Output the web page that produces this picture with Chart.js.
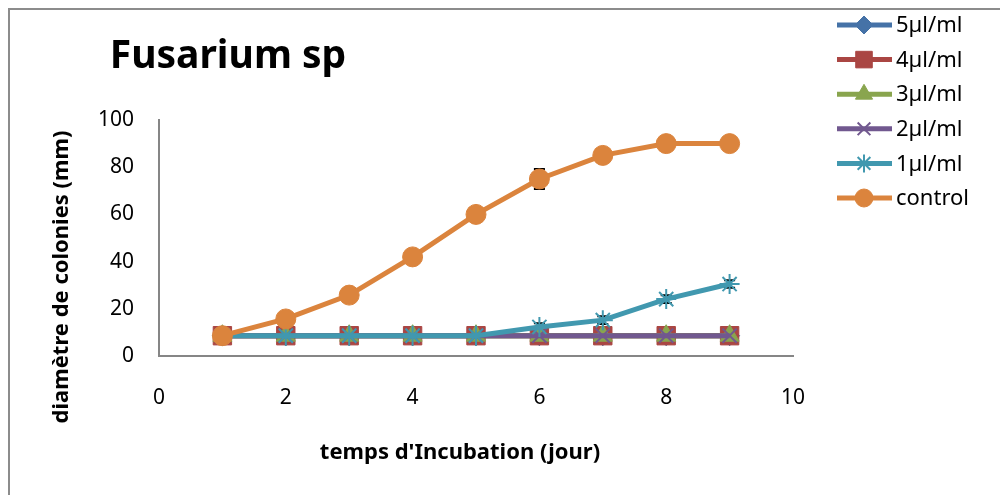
<!DOCTYPE html>
<html>
<head>
<meta charset="utf-8">
<script src="https://cdn.jsdelivr.net/npm/chart.js@4.4.0/dist/chart.umd.min.js"></script>
<style>
    html, body { margin: 0; padding: 0; background: #fff; }
    #wrap { position: relative; width: 1000px; height: 495px; }
    #frame {
        position: absolute; left: 8px; top: 8px; right: 0; bottom: 0;
        border-left: 2px solid #8c8c8c; border-top: 2px solid #8c8c8c;
        pointer-events: none;
    }
</style>
</head>
<body>
<div id="wrap">
    <canvas id="fusariumChart" width="1000" height="495"></canvas>
    <div id="frame"></div>
</div>
<script>
// Data
const days = [1, 2, 3, 4, 5, 6, 7, 8, 9];
const xTicks = [0, 2, 4, 6, 8, 10];
const yTicks = [0, 20, 40, 60, 80, 100];

const labels = ['5µl/ml', '4µl/ml', '3µl/ml', '2µl/ml', '1µl/ml', 'control'];
const dose5 = [8.6, 8.6, 8.6, 8.6, 8.6, 8.6, 8.6, 8.6, 8.6];
const dose4 = [8.6, 8.6, 8.6, 8.6, 8.6, 8.6, 8.6, 8.6, 8.6];
const dose3 = [8.6, 8.6, 8.6, 8.6, 8.6, 8.6, 8.6, 8.6, 8.6];
const dose2 = [8.6, 8.6, 8.6, 8.6, 8.6, 8.6, 8.6, 8.6, 8.6];
const dose1 = [8.6, 8.6, 8.6, 8.6, 8.6, 12.3, 15.2, 24.1, 30.5];
const control = [8.6, 15.7, 25.8, 42, 60, 75, 85, 90, 90];

// error bars (only the visible ones)
const errDose1 = [0, 0, 0, 0, 0, 1.6, 1.6, 1.6, 1.6];
const errControl = [0, 0, 0, 0, 0, 4.2, 0, 0, 0];

const colors = ['#4572A7', '#AA4643', '#89A54E', '#71588F', '#4198AF', '#DB843D'];
const styles = ['rectRot', 'rect', 'triangle', 'crossRot', 'star', 'circle'];
const radii = [10, 13, 11, 10, 10, 10];
const series = [dose5, dose4, dose3, dose2, dose1, control];
const errors = [null, null, null, null, errDose1, errControl];

const FONT = '"Noto Sans", "Open Sans", sans-serif';

const datasets = series.map((vals, i) => ({
    label: labels[i],
    data: vals.map((v, j) => ({ x: days[j], y: v })),
    borderColor: colors[i],
    backgroundColor: colors[i],
    borderWidth: 5,
    pointStyle: styles[i],
    pointRadius: radii[i],
    pointBackgroundColor: colors[i],
    pointBorderColor: colors[i],
    pointBorderWidth: (styles[i] === 'crossRot' || styles[i] === 'star') ? 2 : 1,
    tension: 0,
    order: series.length - 1 - i,
    errors: errors[i]
}));

// Error bars, drawn behind the markers
const errorBars = {
    id: 'errorBars',
    beforeDatasetsDraw(chart) {
        const ctx = chart.ctx;
        const yScale = chart.scales.y;
        ctx.save();
        ctx.strokeStyle = '#000';
        ctx.lineWidth = 2;
        chart.data.datasets.forEach((ds, i) => {
            if (!ds.errors) return;
            const meta = chart.getDatasetMeta(i);
            meta.data.forEach((pt, j) => {
                const e = ds.errors[j];
                if (!e) return;
                const v = ds.data[j].y;
                const top = yScale.getPixelForValue(v + e);
                const bot = yScale.getPixelForValue(v - e);
                ctx.beginPath();
                ctx.moveTo(pt.x, top); ctx.lineTo(pt.x, bot);
                ctx.moveTo(pt.x - 5.5, top); ctx.lineTo(pt.x + 5.5, top);
                ctx.moveTo(pt.x - 5.5, bot); ctx.lineTo(pt.x + 5.5, bot);
                ctx.stroke();
            });
        });
        ctx.restore();
    }
};

// Title, axis titles and legend
const extras = {
    id: 'extras',
    afterDraw(chart) {
        const ctx = chart.ctx;
        ctx.save();
        ctx.fillStyle = '#000';

        ctx.font = 'bold 39px ' + FONT;
        ctx.textAlign = 'center';
        ctx.textBaseline = 'middle';
        ctx.fillText('Fusarium sp', 228, 57);

        ctx.font = 'bold 22px ' + FONT;
        ctx.fillText("temps d'Incubation (jour)", 460, 453);

        ctx.save();
        ctx.translate(62, 277);
        ctx.rotate(-Math.PI / 2);
        ctx.fillText('diamètre de colonies (mm)', 0, 0);
        ctx.restore();

        // legend
        ctx.font = '22px ' + FONT;
        ctx.textAlign = 'left';
        chart.data.datasets.forEach((ds, i) => {
            const y = 25 + i * 34.6;
            ctx.strokeStyle = ds.borderColor;
            ctx.lineWidth = 5;
            ctx.beginPath();
            ctx.moveTo(837, y); ctx.lineTo(892, y);
            ctx.stroke();
            ctx.fillStyle = ds.pointBackgroundColor;
            ctx.strokeStyle = ds.pointBorderColor;
            ctx.lineWidth = ds.pointBorderWidth;
            Chart.helpers.drawPoint(ctx, {
                pointStyle: ds.pointStyle,
                radius: ds.pointRadius * 0.9,
                rotation: 0,
                borderWidth: ds.pointBorderWidth
            }, 864, y);
            ctx.fillStyle = '#000';
            ctx.fillText(ds.label, 896, y + 1);
        });
        ctx.restore();
    }
};

const chart = new Chart(document.getElementById('fusariumChart').getContext('2d'), {
    type: 'line',
    data: { datasets: datasets },
    options: {
        responsive: false,
        animation: false,
        layout: { padding: { left: 0, top: 120, right: 207, bottom: 0 } },
        plugins: {
            legend: { display: false },
            title: { display: false },
            tooltip: { enabled: false }
        },
        scales: {
            x: {
                type: 'linear',
                min: 0,
                max: 10,
                afterBuildTicks: (s) => { s.ticks = xTicks.map(v => ({ value: v })); },
                afterFit: (s) => { s.height = 139; },
                grid: { display: true, drawOnChartArea: false, drawTicks: false },
                border: { display: true, color: '#868686', width: 2 },
                ticks: { padding: 29, color: '#000', font: { family: FONT, size: 21 }, maxRotation: 0 }
            },
            y: {
                min: 0,
                max: 100,
                afterBuildTicks: (s) => { s.ticks = yTicks.map(v => ({ value: v })); },
                afterFit: (s) => { s.width = 159; },
                grid: { display: true, drawOnChartArea: false, drawTicks: false },
                border: { display: true, color: '#868686', width: 2 },
                ticks: { padding: 25, color: '#000', font: { family: FONT, size: 21 } }
            }
        }
    },
    plugins: [errorBars, extras]
});
</script>
</body>
</html>
